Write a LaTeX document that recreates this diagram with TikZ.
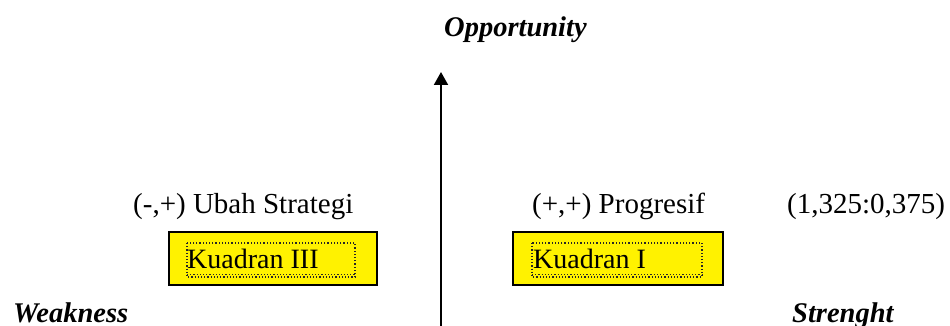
\documentclass[tikz,border=0pt]{standalone}
\usepackage{fontspec}
\setmainfont{Liberation Serif}
\usetikzlibrary{arrows.meta}
\begin{document}
\begin{tikzpicture}[x=1pt,y=-1pt,
  lbl/.style={anchor=base west,inner sep=0pt,font=\fontsize{29}{34}\selectfont},
  axis/.style={anchor=base west,inner sep=0pt,font=\fontsize{28.5}{34}\selectfont\bfseries\itshape},
  boxtxt/.style={anchor=base west,inner sep=0pt,font=\fontsize{28}{33}\selectfont},
  quad/.style={draw=black,line width=1.5pt,fill=yellow},
  dotframe/.style={draw=black!85,line width=1.2pt,dotted},
  axisline/.style={line width=2pt,-{Triangle[length=13pt,width=14pt]}}]
\useasboundingbox (0,0) rectangle (950,326);
% axis
\coordinate (abot) at (441,326);
\coordinate (atop) at (441,72);
\draw[axisline] (abot) -- (atop);
% axis labels
\node[axis] (opp) at (444,37) {Opportunity};
\node[axis] (weak) at (13,322) {Weakness};
\node[axis] (str) at (792,322) {Strenght};
% quadrant labels
\node[lbl] (q3lbl) at (133,213) {(-,+) Ubah Strategi};
\node[lbl] (q1lbl) at (532,213) {(+,+) Progresif};
\node[lbl] (coord) at (787,213) {(1,325:0,375)};
% boxes
\node[quad,minimum width=208pt,minimum height=53pt,anchor=north west,inner sep=0pt] (b3) at (168,231) {};
\node[quad,minimum width=210pt,minimum height=53pt,anchor=north west,inner sep=0pt] (b1) at (512,231) {};
\draw[dotframe] (187,243) rectangle (355,277);
\draw[dotframe] (187,274.5) -- (355,274.5);
\draw[dotframe] (532,243) rectangle (702,277);
\draw[dotframe] (532,274.5) -- (702,274.5);
\node[boxtxt] (k3) at (187,268) {Kuadran III};
\node[boxtxt] (k1) at (533,268) {Kuadran I};
\end{tikzpicture}
\end{document}
